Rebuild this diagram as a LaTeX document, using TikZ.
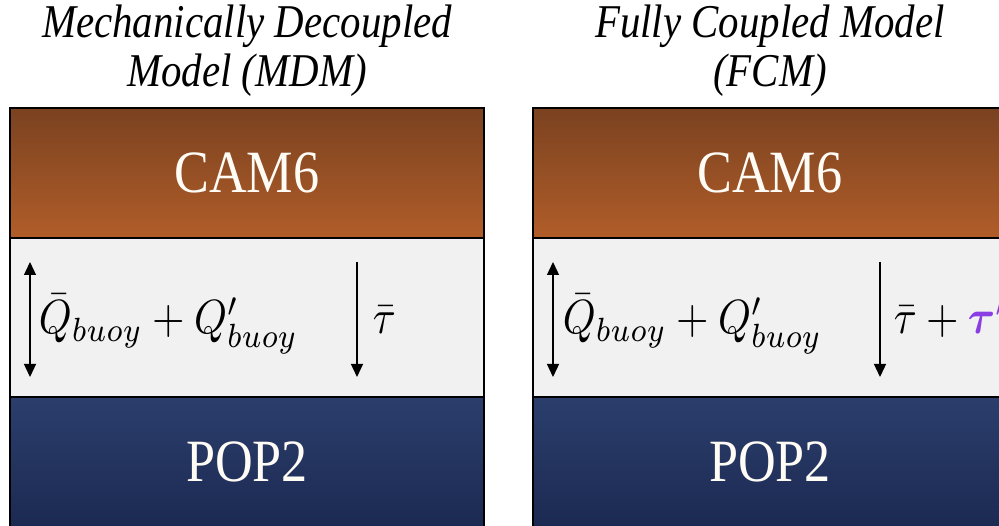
\documentclass[tikz,border=0pt]{standalone}
\usepackage{fontspec}
\usepackage{amsmath}
\setmainfont{Liberation Serif}
\usetikzlibrary{arrows.meta,positioning}
\definecolor{camTop}{HTML}{7A4220}
\definecolor{camBottom}{HTML}{B15D29}
\definecolor{popTop}{HTML}{2B3E6C}
\definecolor{popBottom}{HTML}{1C2A52}
\definecolor{fluxFill}{HTML}{F1F1F1}
\definecolor{bandText}{HTML}{FFFCF6}
\definecolor{tauPurple}{HTML}{8A3DE2}
\newcommand{\squishtext}[1]{\scalebox{0.87}[1]{#1}}

\begin{document}
\begin{tikzpicture}[
  x=1pt, y=-1pt,
  title/.style={font=\fontsize{47}{49}\selectfont\itshape, align=center, inner sep=0pt, xscale=0.87},
  band/.style={
    rectangle, draw=black, line width=2.6pt, outer sep=0pt, inner sep=0pt,
    minimum width=474pt, minimum height=130pt,
    text=bandText, font=\fontsize{60}{60}\selectfont
  },
  cambox/.style={band, top color=camTop, bottom color=camBottom},
  popbox/.style={band, top color=popTop, bottom color=popBottom},
  fluxbox/.style={band, fill=fluxFill, minimum height=159pt},
  mathlabel/.style={font=\normalsize, inner sep=0pt, anchor=base west, xscale=4.18, yscale=4.8},
  flux/.style={line width=1.3pt, draw=black},
  twoway/.style={flux, {Triangle[length=13pt,width=12pt]}-{Triangle[length=13pt,width=12pt]}},
  oneway/.style={flux, -{Triangle[length=13pt,width=12pt]}}
]
\clip (0,0) rectangle (999,526);

%  Model titles
\node[title] (titleL) at (247,51) {Mechanically Decoupled\\Model (MDM)};
\node[title] (titleR) at (770,51) {Fully Coupled Model\\(FCM)};

%  Left column (MDM)
\node[cambox] (camL) at (247,173) {\squishtext{CAM6}};
\node[fluxbox, below=0pt of camL] (fluxL) {};
\node[popbox, below=0pt of fluxL] (popL) {\squishtext{POP2}};

%  Right column (FCM)
\node[cambox] (camR) at (770,173) {\squishtext{CAM6}};
\node[fluxbox, below=0pt of camR] (fluxR) {};
\node[popbox, below=0pt of fluxR] (popR) {\squishtext{POP2}};

%  Flux labels
\node[mathlabel] (buoyL) at (38,334) {$\bar{Q}_{buoy}+Q'_{buoy}$};
\node[mathlabel] (tauL) at (372,334) {$\bar{\tau}$};
\node[mathlabel] (buoyR) at (562,334) {$\bar{Q}_{buoy}+Q'_{buoy}$};
\node[mathlabel] (tauR) at (893,334) {$\bar{\tau}+\textcolor{tauPurple}{\boldsymbol{\tau}'}$};

%  Flux arrows
\coordinate (buoyTopL) at (30,262);
\coordinate (buoyBotL) at (30,377);
\coordinate (tauTopL) at (357,262);
\coordinate (tauBotL) at (357,377);
\coordinate (buoyTopR) at (553,262);
\coordinate (buoyBotR) at (553,377);
\coordinate (tauTopR) at (880,262);
\coordinate (tauBotR) at (880,377);
\draw[twoway] (buoyTopL) -- (buoyBotL);
\draw[oneway] (tauTopL) -- (tauBotL);
\draw[twoway] (buoyTopR) -- (buoyBotR);
\draw[oneway] (tauTopR) -- (tauBotR);

\end{tikzpicture}
\end{document}
